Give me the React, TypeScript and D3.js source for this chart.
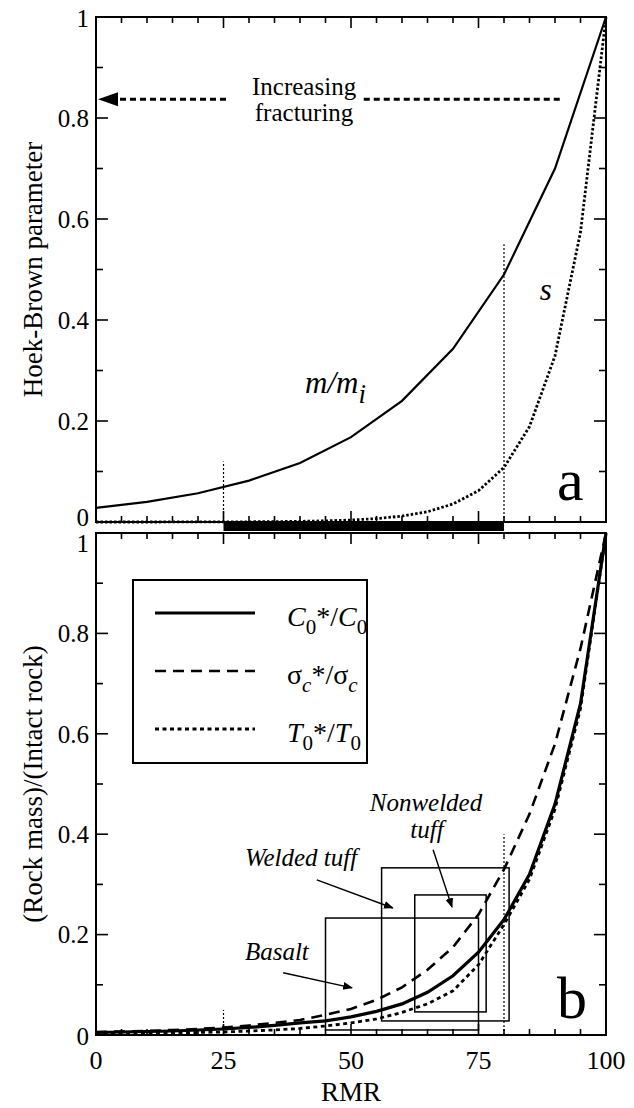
import React from 'react';
import * as d3 from 'd3';

// RMR values used for the curves
const rmrTen = [0, 10, 20, 30, 40, 50, 60, 70, 80, 90, 100];
const mRatio = [0.028, 0.04, 0.057, 0.082, 0.117, 0.168, 0.24, 0.343, 0.49, 0.7, 1.0];

const rmrFive = [0, 5, 10, 15, 20, 25, 30, 35, 40, 45, 50, 55, 60, 65, 70, 75, 80, 85, 90, 95, 100];
const sParam = [0, 0, 0, 0.0001, 0.0001, 0.0002, 0.0004, 0.0007, 0.0013, 0.0022, 0.0039, 0.0067, 0.0117, 0.0203, 0.0357, 0.062, 0.108, 0.189, 0.329, 0.574, 1.0];

const c0Ratio = [0.005, 0.006, 0.007, 0.008, 0.01, 0.012, 0.015, 0.019, 0.024, 0.028, 0.036, 0.047, 0.062, 0.085, 0.118, 0.165, 0.23, 0.32, 0.46, 0.66, 1.0];
const sigmaRatio = [0.006, 0.007, 0.008, 0.01, 0.012, 0.015, 0.019, 0.024, 0.03, 0.04, 0.052, 0.07, 0.095, 0.13, 0.175, 0.24, 0.33, 0.44, 0.58, 0.77, 1.0];
const t0Ratio = [0.002, 0.0025, 0.003, 0.004, 0.005, 0.006, 0.008, 0.01, 0.013, 0.018, 0.024, 0.032, 0.045, 0.062, 0.088, 0.14, 0.22, 0.31, 0.45, 0.65, 1.0];

// rock type ranges: [rmrMin, rmrMax, ratioMin, ratioMax]
const rockBoxes = [
  { name: 'Basalt', range: [45, 75, 0.01, 0.233] },
  { name: 'Welded tuff', range: [56, 81, 0.028, 0.333] },
  { name: 'Nonwelded tuff', range: [62.5, 76.5, 0.046, 0.279] },
];

const xTicks = [0, 25, 50, 75, 100];
const yTicks = [0, 0.2, 0.4, 0.6, 0.8, 1];

const W = 634;
const H = 1108;
const left = 96;
const right = 606;

const x = d3.scaleLinear().domain([0, 100]).range([left, right]);
const yTop = d3.scaleLinear().domain([0, 1]).range([522, 17]);
const yBot = d3.scaleLinear().domain([0, 1]).range([1035, 533]);

const tf = { fontFamily: 'Liberation Serif' };
const tfi = { fontFamily: 'Liberation Serif', fontStyle: 'italic' as const };

function Frame({ y, showX, firstOffset, lastOffset }: { y: d3.ScaleLinear<number, number>; showX: boolean; firstOffset: number; lastOffset: number }) {
  const [y0, y1] = y.range();
  const minorX = d3.range(0, 101, 5);
  const minorY = d3.range(0, 1.001, 0.1);
  return (
    <g>
      <rect x={left} y={y1} width={right - left} height={y0 - y1} fill="none" stroke="#000" strokeWidth={2} />
      {minorX.map((v) => {
        const len = v % 25 === 0 ? 11 : 6;
        return (
          <g key={'x' + v}>
            <line x1={x(v)} x2={x(v)} y1={y0} y2={y0 - len} stroke="#000" strokeWidth={1.6} />
            <line x1={x(v)} x2={x(v)} y1={y1} y2={y1 + len} stroke="#000" strokeWidth={1.6} />
          </g>
        );
      })}
      {minorY.map((v, i) => {
        const len = i % 2 === 0 ? 12 : 7;
        return (
          <g key={'y' + i}>
            <line x1={left} x2={left + len} y1={y(v)} y2={y(v)} stroke="#000" strokeWidth={1.6} />
            <line x1={right} x2={right - len} y1={y(v)} y2={y(v)} stroke="#000" strokeWidth={1.6} />
          </g>
        );
      })}
      {yTicks.map((v) => (
        <text key={'yl' + v} x={89} y={y(v) + (v === 1 ? firstOffset : v === 0 ? lastOffset : 0)} dy="0.35em" textAnchor="end" fontSize={25} style={tf}>
          {v === 0 || v === 1 ? String(v) : v.toFixed(1)}
        </text>
      ))}
      {showX &&
        xTicks.map((v) => (
          <text key={'xl' + v} x={x(v)} y={1069} textAnchor="middle" fontSize={26} style={tf}>
            {v}
          </text>
        ))}
    </g>
  );
}

export default function App() {
  const lineTop = (vals: number[], xs: number[]) =>
    d3.line<number>().x((_, i) => x(xs[i])).y((d) => yTop(d))(vals) || '';
  const lineBot = (vals: number[]) =>
    d3.line<number>().x((_, i) => x(rmrFive[i])).y((d) => yBot(d))(vals) || '';

  const arrowY = yTop(0.837);

  const annotArrows = [
    { from: [43.3, 0.309], to: [58.2, 0.253] },
    { from: [66.1, 0.369], to: [69.8, 0.255] },
    { from: [36.7, 0.124], to: [50.2, 0.094] },
  ];

  const legendItems = [
    { dash: 'none', width: 3.2, main: 'C', sub: '0', den: 'C', dsub: '0', greek: false },
    { dash: '11,7', width: 2.6, main: 'σ', sub: 'c', den: 'σ', dsub: 'c', greek: true },
    { dash: '4,3.5', width: 2.8, main: 'T', sub: '0', den: 'T', dsub: '0', greek: false },
  ];

  return (
    <svg width={W} height={H} style={{ position: 'absolute', left: 0, top: 0, background: '#fff', fontFamily: 'Liberation Serif' }}>
      <defs>
        <marker id="head" viewBox="0 0 10 10" refX="9" refY="5" markerWidth="7" markerHeight="7" orient="auto-start-reverse">
          <path d="M0,1 L10,5 L0,9 z" fill="#000" />
        </marker>
      </defs>
      <rect x={0} y={0} width={W} height={H} fill="#fff" />

      {/* ---------- panel a ---------- */}
      <Frame y={yTop} showX={false} firstOffset={1} lastOffset={-5} />
      {/* RMR range bar */}
      <rect x={x(25)} y={522} width={x(80) - x(25)} height={9} fill="#000" />
      <line x1={x(25)} x2={x(25)} y1={yTop(0)} y2={yTop(0.12)} stroke="#000" strokeWidth={1.2} strokeDasharray="2,2" />
      <line x1={x(80)} x2={x(80)} y1={yTop(0)} y2={yTop(0.55)} stroke="#000" strokeWidth={1.2} strokeDasharray="2,2" />
      <path d={lineTop(mRatio, rmrTen)} fill="none" stroke="#000" strokeWidth={2.2} />
      <path d={lineTop(sParam, rmrFive)} fill="none" stroke="#000" strokeWidth={2.8} strokeDasharray="2.5,2" />

      {/* increasing fracturing arrow */}
      <line x1={x(0) + 14} x2={x(26)} y1={arrowY} y2={arrowY} stroke="#000" strokeWidth={3} strokeDasharray="6,4" />
      <path d={`M${x(0) + 2},${arrowY} L${x(0) + 22},${arrowY - 7} L${x(0) + 22},${arrowY + 7} z`} fill="#000" />
      <line x1={x(52.5)} x2={x(91.5)} y1={arrowY} y2={arrowY} stroke="#000" strokeWidth={3} strokeDasharray="6,4" />
      <text x={x(40.8)} y={arrowY - 4} textAnchor="middle" fontSize={25} style={tf}>Increasing</text>
      <text x={x(40.8)} y={arrowY + 22} textAnchor="middle" fontSize={25} style={tf}>fracturing</text>

      <text x={x(41)} y={yTop(0.255)} fontSize={31} style={tfi}>
        m/m<tspan dy={10} fontSize={27}>i</tspan>
      </text>
      <text x={x(87)} y={yTop(0.44)} fontSize={31} style={tfi}>s</text>
      <text x={x(90.4)} y={yTop(0.044)} fontSize={60} style={tf}>a</text>

      <text transform={`translate(42,${(yTop(0) + yTop(1)) / 2}) rotate(-90)`} textAnchor="middle" fontSize={27} style={tf}>
        Hoek-Brown parameter
      </text>

      {/* ---------- panel b ---------- */}
      <Frame y={yBot} showX={true} firstOffset={10} lastOffset={1} />
      <line x1={x(25)} x2={x(25)} y1={yBot(0)} y2={yBot(0.05)} stroke="#000" strokeWidth={1.2} strokeDasharray="2,2" />
      <line x1={x(80)} x2={x(80)} y1={yBot(0)} y2={yBot(0.4)} stroke="#000" strokeWidth={1.2} strokeDasharray="2,2" />

      {rockBoxes.map((b) => (
        <rect key={b.name} x={x(b.range[0])} y={yBot(b.range[3])} width={x(b.range[1]) - x(b.range[0])} height={yBot(b.range[2]) - yBot(b.range[3])} fill="none" stroke="#000" strokeWidth={1.5} />
      ))}

      <path d={lineBot(c0Ratio)} fill="none" stroke="#000" strokeWidth={3.2} />
      <path d={lineBot(sigmaRatio)} fill="none" stroke="#000" strokeWidth={2.6} strokeDasharray="11,7" />
      <path d={lineBot(t0Ratio)} fill="none" stroke="#000" strokeWidth={2.8} strokeDasharray="4,3.5" />

      {annotArrows.map((a, i) => (
        <line key={i} x1={x(a.from[0])} y1={yBot(a.from[1])} x2={x(a.to[0])} y2={yBot(a.to[1])} stroke="#000" strokeWidth={1.4} markerEnd="url(#head)" />
      ))}
      <text x={x(64.7)} y={yBot(0.446)} textAnchor="middle" fontSize={25} style={tfi}>Nonwelded</text>
      <text x={x(64.9)} y={yBot(0.392)} textAnchor="middle" fontSize={25} style={tfi}>tuff</text>
      <text x={x(29.2)} y={yBot(0.337)} fontSize={25} style={tfi}>Welded tuff</text>
      <text x={x(29.2)} y={yBot(0.149)} fontSize={25} style={tfi}>Basalt</text>
      <text x={x(90.4)} y={1018} fontSize={60} style={tf}>b</text>

      {/* legend */}
      <rect x={133} y={580} width={234} height={183} fill="#fff" stroke="#000" strokeWidth={2} />
      {legendItems.map((it, i) => {
        const ly = 613 + i * 58;
        return (
          <g key={i}>
            <line x1={155} x2={255} y1={ly} y2={ly} stroke="#000" strokeWidth={it.width} strokeDasharray={it.dash} />
            <text x={287} y={ly + 13} fontSize={28} style={tf}>
              <tspan fontStyle={it.greek ? 'normal' : 'italic'}>{it.main}</tspan>
              <tspan dy={8} fontSize={21} fontStyle={it.greek ? 'italic' : 'normal'}>{it.sub}</tspan>
              <tspan dy={-8}>*/</tspan>
              <tspan fontStyle={it.greek ? 'normal' : 'italic'}>{it.den}</tspan>
              <tspan dy={8} fontSize={21} fontStyle={it.greek ? 'italic' : 'normal'}>{it.dsub}</tspan>
            </text>
          </g>
        );
      })}

      <text transform={`translate(42,${(yBot(0) + yBot(1)) / 2}) rotate(-90)`} textAnchor="middle" fontSize={27} style={tf}>
        (Rock mass)/(Intact rock)
      </text>
      <text x={(left + right) / 2} y={1101} textAnchor="middle" fontSize={27} style={tf}>RMR</text>
    </svg>
  );
}
